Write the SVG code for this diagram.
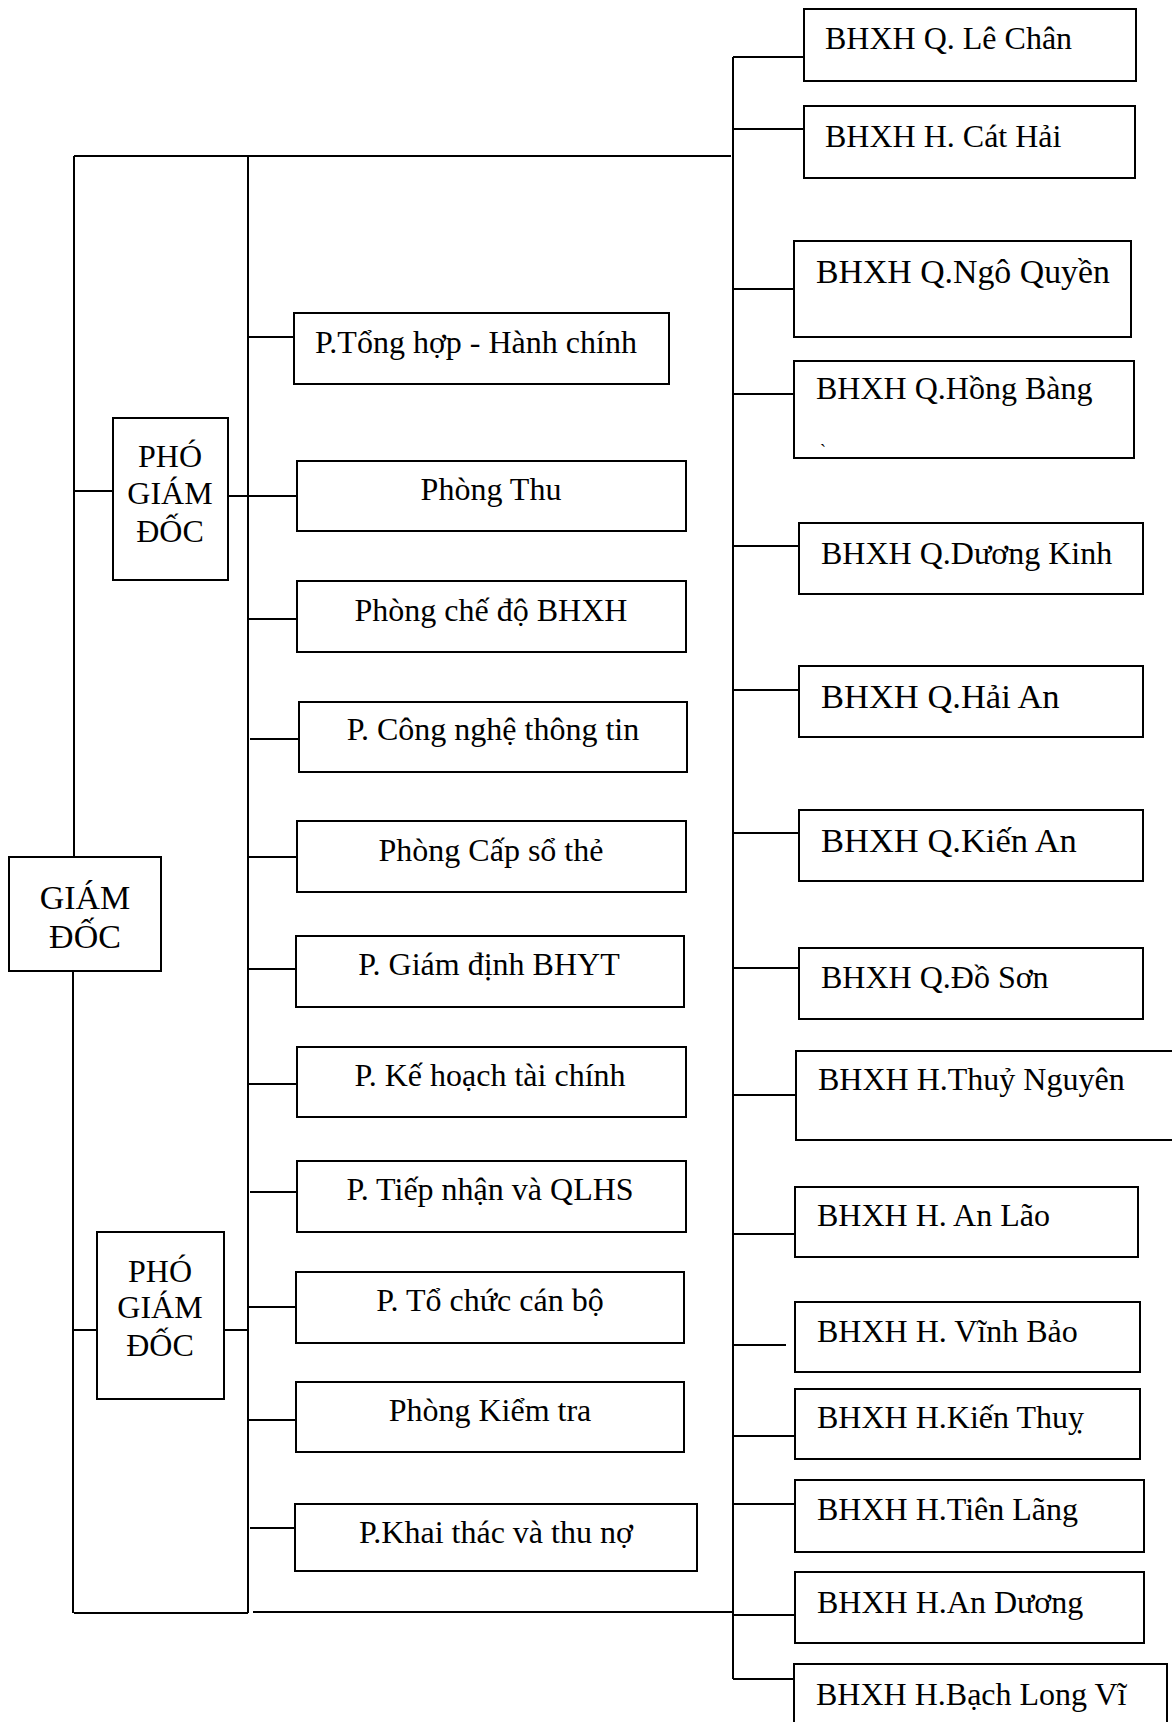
<svg xmlns="http://www.w3.org/2000/svg" width="1172" height="1722" viewBox="0 0 1172 1722">
<style>
.box{fill:#fff;stroke:#000;stroke-width:2}
.ln{stroke:#000;stroke-width:2;fill:none}
text{font-family:"Liberation Serif","Times New Roman",serif;font-size:32px;fill:#000}
.c{text-anchor:middle}
.big{font-size:34.5px}
</style>
<rect width="1172" height="1722" fill="#fff"/>
<g id="connectors">
<path class="ln" d="M74,156 H731"/>
<path class="ln" d="M74,156 V857 M73,971 V1613"/>
<path class="ln" d="M248,156 V1613"/>
<path class="ln" d="M74,1613 H248 M253,1612 H733"/>
<path class="ln" d="M733,57 V1679"/>
<path class="ln" d="M74,491 H113 M228,496 H297"/>
<path class="ln" d="M74,1330 H97 M224,1330 H248"/>
<path class="ln" d="M248,337 H294 M248,619 H297 M250,739 H299 M248,857 H297 M248,969 H296 M248,1084 H297 M250,1192 H297 M248,1307 H296 M248,1420 H296 M250,1528 H295"/>
<path class="ln" d="M733,57 H804 M733,129 H804 M733,289 H794 M733,394 H794 M733,546 H799 M733,690 H799 M733,833 H799 M733,968 H799 M733,1095 H796 M733,1234 H795 M733,1345 H786 M733,1436 H795 M733,1504 H795 M733,1615 H795 M733,1679 H794"/>
</g>
<g id="giam-doc"><rect class="box" x="9" y="857" width="152" height="114"/><text class="c" x="85" y="909" style="font-size:34px">GIÁM</text><text class="c" x="85" y="948" style="font-size:34px">ĐỐC</text></g>
<g id="pgd1"><rect class="box" x="113" y="418" width="115" height="162"/><text class="c" x="170" y="467">PHÓ</text><text class="c" x="170" y="504">GIÁM</text><text class="c" x="170" y="542">ĐỐC</text></g>
<g id="pgd2"><rect class="box" x="97" y="1232" width="127" height="167"/><text class="c" x="160" y="1282">PHÓ</text><text class="c" x="160" y="1318">GIÁM</text><text class="c" x="160" y="1356">ĐỐC</text></g>
<g id="p-tong-hop"><rect class="box" x="294" y="313" width="375" height="71"/><text class="c" x="476" y="353">P.Tổng hợp - Hành chính</text></g>
<g id="p-thu"><rect class="box" x="297" y="461" width="389" height="70"/><text class="c" x="491" y="500">Phòng Thu</text></g>
<g id="p-che-do"><rect class="box" x="297" y="581" width="389" height="71"/><text class="c" x="491" y="621">Phòng chế độ BHXH</text></g>
<g id="p-cntt"><rect class="box" x="299" y="702" width="388" height="70"/><text class="c" x="493" y="740">P. Công nghệ thông tin</text></g>
<g id="p-cap-so"><rect class="box" x="297" y="821" width="389" height="71"/><text class="c" x="491" y="861">Phòng Cấp sổ thẻ</text></g>
<g id="p-giam-dinh"><rect class="box" x="296" y="936" width="388" height="71"/><text class="c" x="489" y="975">P. Giám định BHYT</text></g>
<g id="p-ke-hoach"><rect class="box" x="297" y="1047" width="389" height="70"/><text class="c" x="490" y="1086">P. Kế hoạch tài chính</text></g>
<g id="p-tiep-nhan"><rect class="box" x="297" y="1161" width="389" height="71"/><text class="c" x="490" y="1200">P. Tiếp nhận và QLHS</text></g>
<g id="p-to-chuc"><rect class="box" x="296" y="1272" width="388" height="71"/><text class="c" x="490" y="1311">P. Tổ chức cán bộ</text></g>
<g id="p-kiem-tra"><rect class="box" x="296" y="1382" width="388" height="70"/><text class="c" x="490" y="1421">Phòng Kiểm tra</text></g>
<g id="p-khai-thac"><rect class="box" x="295" y="1504" width="402" height="67"/><text class="c" x="496" y="1543">P.Khai thác và thu nợ</text></g>
<g id="le-chan"><rect class="box" x="804" y="9" width="332" height="72"/><text x="825" y="49">BHXH Q. Lê Chân</text></g>
<g id="cat-hai"><rect class="box" x="804" y="106" width="331" height="72"/><text x="825" y="147">BHXH H. Cát Hải</text></g>
<g id="ngo-quyen"><rect class="box" x="794" y="241" width="337" height="96"/><text x="816" y="283" style="font-size:33.8px">BHXH Q.Ngô Quyền</text></g>
<g id="hong-bang"><rect class="box" x="794" y="361" width="340" height="97"/><text x="816" y="399">BHXH Q.Hồng Bàng</text><text x="820" y="457" style="font-size:18px">`</text></g>
<g id="duong-kinh"><rect class="box" x="799" y="523" width="344" height="71"/><text x="821" y="564">BHXH Q.Dương Kinh</text></g>
<g id="hai-an"><rect class="box" x="799" y="666" width="344" height="71"/><text class="big" x="821" y="708">BHXH Q.Hải An</text></g>
<g id="kien-an"><rect class="box" x="799" y="810" width="344" height="71"/><text class="big" x="821" y="852">BHXH Q.Kiến An</text></g>
<g id="do-son"><rect class="box" x="799" y="948" width="344" height="71"/><text x="821" y="988">BHXH Q.Đồ Sơn</text></g>
<g id="thuy-nguyen"><rect class="box" x="796" y="1051" width="390" height="89"/><text x="818" y="1090">BHXH H.Thuỷ Nguyên</text></g>
<g id="an-lao"><rect class="box" x="795" y="1187" width="343" height="70"/><text x="817" y="1226">BHXH H. An Lão</text></g>
<g id="vinh-bao"><rect class="box" x="795" y="1302" width="345" height="70"/><text x="817" y="1342">BHXH H. Vĩnh Bảo</text></g>
<g id="kien-thuy"><rect class="box" x="795" y="1389" width="345" height="70"/><text x="817" y="1428">BHXH H.Kiến Thuỵ</text></g>
<g id="tien-lang"><rect class="box" x="795" y="1480" width="349" height="72"/><text x="817" y="1520">BHXH H.Tiên Lãng</text></g>
<g id="an-duong"><rect class="box" x="795" y="1572" width="349" height="71"/><text x="817" y="1613">BHXH H.An Dương</text></g>
<g id="bach-long-vi"><rect class="box" x="794" y="1664" width="373" height="80"/><text x="816" y="1705">BHXH H.Bạch Long Vĩ</text></g>
</svg>
